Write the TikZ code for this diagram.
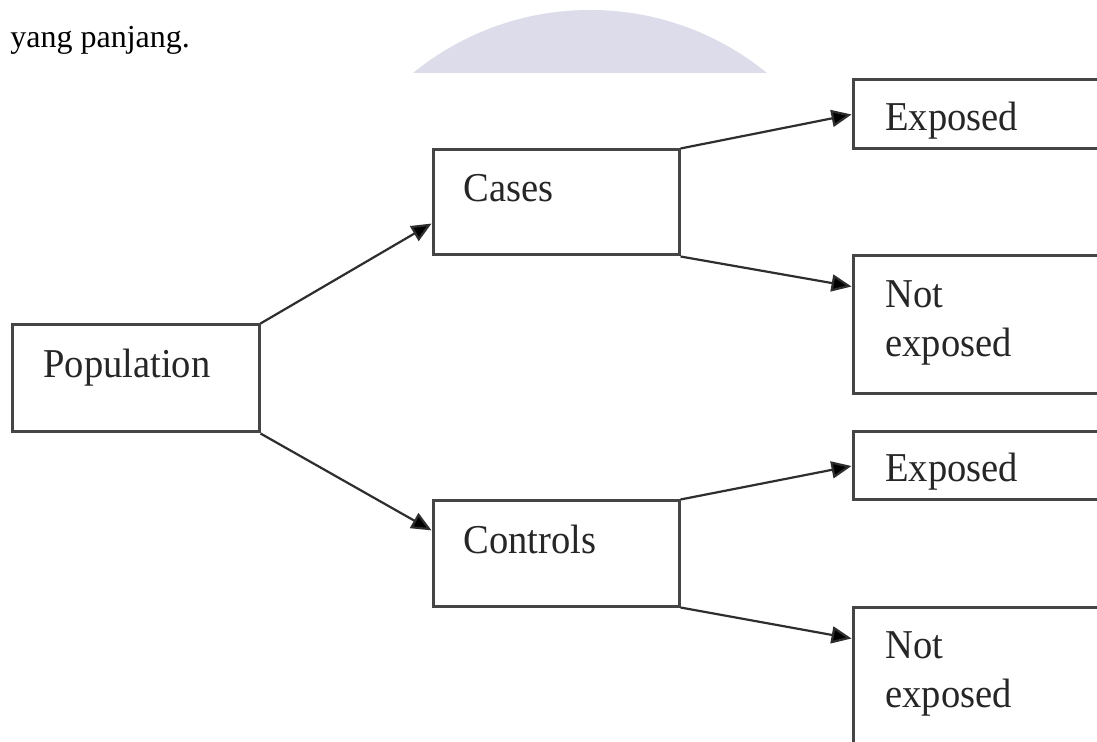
\documentclass[tikz,border=0pt]{standalone}
\usepackage{fontspec}
\setmainfont{Liberation Serif}
\newfontfamily\boxfont[FakeStretch=0.94]{Liberation Serif}
\usetikzlibrary{arrows.meta,calc}
\definecolor{lav}{HTML}{DCDCEB}
\definecolor{boxline}{HTML}{454545}
\definecolor{arrline}{HTML}{2E2E2E}
\begin{document}
\begin{tikzpicture}[x=0.5pt,y=-0.5pt,
  box/.style={draw=boxline,line width=1.5pt,rectangle,inner sep=0pt,fill=white},
  lbl/.style={font=\boxfont\fontsize{20.5pt}{24.5pt}\selectfont,anchor=base west,inner sep=0pt,text=black!85,align=left},
  arr/.style={draw=arrline,line width=1.1pt,-{Triangle[length=10pt,width=8.5pt,fill=black]}}]
\useasboundingbox (0,0) rectangle (1097,742);
\clip (0,0) rectangle (1097,742);
\fill[white] (0,0) rectangle (1097,742);
\begin{scope}
  \clip (0,0) rectangle (1097,73);
  \fill[lav] (590,290) circle [radius=140pt];
\end{scope}
\node[anchor=base west,inner sep=0pt,font=\fontsize{16pt}{19pt}\selectfont] (intro) at (10,48) {yang panjang.};
% boxes
\node[box,minimum width=123.5pt,minimum height=53.5pt] (pop) at (135.5,378.5) {};
\node[box,minimum width=123pt,minimum height=52.5pt] (cases) at (556,202.5) {};
\node[box,minimum width=123pt,minimum height=52.5pt] (controls) at (556,553.5) {};
\node[box,minimum width=133.5pt,minimum height=34.5pt] (ex1) at (986.5,114.5) {};
\node[box,minimum width=133.5pt,minimum height=69pt] (nx1) at (986.5,325) {};
\node[box,minimum width=133.5pt,minimum height=34pt] (ex2) at (986.5,466) {};
\node[box,minimum width=133.5pt,minimum height=76.5pt] (nx2) at (986.5,683.5) {};
% labels
\node[lbl] (tpop) at (43,378) {Population};
\node[lbl] (tcases) at (463,202) {Cases};
\node[lbl] (tcontrols) at (463,553) {Controls};
\node[lbl] (tex1) at (885,131) {Exposed};
\node[lbl] (tnx1) at (885,357) {Not\\exposed};
\node[lbl] (tex2) at (885,482) {Exposed};
\node[lbl] (tnx2) at (885,707) {Not\\exposed};
% connectors
\draw[arr] (pop.north east) -- ($(cases.north west)!0.695!(cases.south west)$);
\draw[arr] (pop.south east) -- ($(controls.north west)!0.286!(controls.south west)$);
\draw[arr] (cases.north east) -- (ex1.west);
\draw[arr] (cases.south east) -- ($(nx1.north west)+(0,32)$);
\draw[arr] (controls.north east) -- (ex2.west);
\draw[arr] (controls.south east) -- ($(nx2.north west)+(0,33)$);
\end{tikzpicture}
\end{document}
